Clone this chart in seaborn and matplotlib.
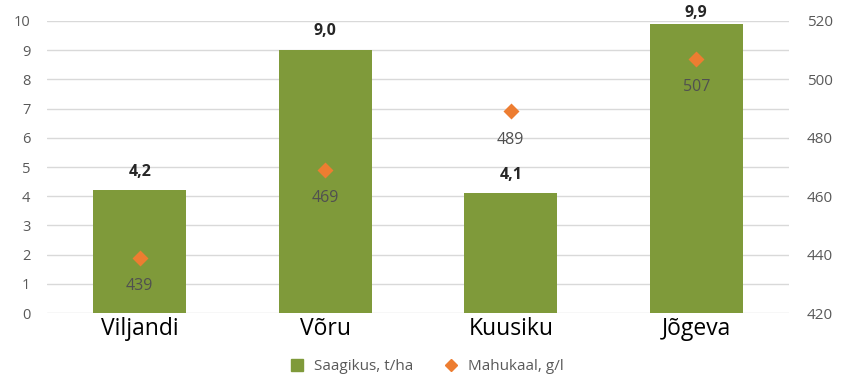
import matplotlib
matplotlib.use("Agg")
import matplotlib.pyplot as plt
import seaborn as sns
import pandas as pd
import numpy as np
from matplotlib.lines import Line2D

categories = ["Viljandi", "Võru", "Kuusiku", "Jõgeva"]
saagikus = [4.2, 9.0, 4.1, 9.9]
mahukaal = [439, 469, 489, 507]
series_names = ["Saagikus, t/ha", "Mahukaal, g/l"]

df = pd.DataFrame({"cat": categories, "saagikus": saagikus, "mahukaal": mahukaal})

sns.set_theme(style="white")
plt.rcParams["font.family"] = ["Open Sans", "DejaVu Sans"]

green = "#7F9A3A"
orange = "#ED7D31"
grid = "#D9D9D9"
txt = "#595959"

fig = plt.figure(figsize=(8.46, 3.8), dpi=100)
ax_rect = [0.0556, 0.176, 0.877, 0.769]
ax = fig.add_axes(ax_rect)
ax2 = ax.twinx()

sns.barplot(data=df, x="cat", y="saagikus", ax=ax, color=green, width=0.5,
            saturation=1, edgecolor="none", zorder=2)
sns.pointplot(data=df, x="cat", y="mahukaal", ax=ax2, color=orange,
              markers="D", linestyle="none", markersize=6.5, zorder=3)

ymax = 10
ax.set_ylim(0, ymax)
ax.set_yticks(np.arange(0, 11, 1))
ax2.set_ylim(420, 520)
ax2.set_yticks(np.arange(420, 521, 20))
ax.set_xlim(-0.5, 3.5)

ax.yaxis.grid(True, color=grid, linewidth=1)
ax.set_axisbelow(True)
for a in (ax, ax2):
    for s in a.spines.values():
        s.set_visible(False)
    a.set_xlabel("")
    a.set_ylabel("")
ax.tick_params(axis="y", labelsize=10.5, labelcolor=txt, length=0, pad=12)
ax2.tick_params(axis="y", labelsize=11, labelcolor=txt, length=0, pad=13)
ax.tick_params(axis="x", labelsize=16.5, labelcolor="black", length=0, pad=3)

axes_h_pt = ax_rect[3] * 3.8 * 72
for i, v in enumerate(saagikus):
    headroom = (ymax - v) / ymax * axes_h_pt
    off = min(13.5, headroom + 5.5)
    ax.annotate(f"{v:.1f}".replace(".", ","), (i, v), xytext=(0, off),
                textcoords="offset points", ha="center", va="center",
                fontsize=11.5, fontweight="bold", color="#262626")
for i, v in enumerate(mahukaal):
    ax2.annotate(f"{v}", (i, v), xytext=(0, -20.5), textcoords="offset points",
                 ha="center", va="center", fontsize=11.5, color="#505050")

handles = [
    Line2D([], [], marker="s", linestyle="none", color=green, markersize=8),
    Line2D([], [], marker="D", linestyle="none", color=orange, markersize=6.5),
]
fig.legend(handles, series_names, loc="center", bbox_to_anchor=(0.5, 0.035),
           ncol=2, frameon=False, fontsize=11, labelcolor=txt,
           handletextpad=0.1, columnspacing=1.5)

fig.savefig("out.png", dpi=100)
